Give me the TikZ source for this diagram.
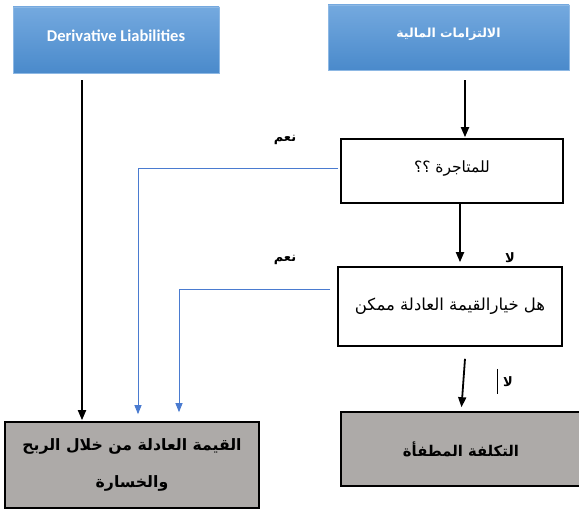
\documentclass[tikz,border=0pt]{standalone}
\usepackage{fontspec}
\setmainfont{Carlito}
\newfontfamily\arabicfont[Script=Arabic]{DejaVu Sans}
\TeXXeTstate=1
\usetikzlibrary{arrows.meta}
\definecolor{blueT}{HTML}{74A9DF}
\definecolor{blueB}{HTML}{4A8ACB}
\definecolor{blueEdge}{HTML}{8DB8E4}
\definecolor{grayfill}{HTML}{ADAAA8}
\definecolor{linkblue}{HTML}{4A7BD0}
\tikzset{
  bluebox/.style={draw=blueEdge, line width=0.8pt, top color=blueT, bottom color=blueB, text=white, font=\bfseries},
  whitebox/.style={draw=black, line width=1.6pt, fill=white},
  graybox/.style={draw=black, line width=1.6pt, fill=grayfill},
  mainarrow/.style={line width=1.8pt, -{Triangle[length=10pt,width=8pt]}},
  linkarrow/.style={draw=linkblue, line width=0.9pt, -{Triangle[length=9pt,width=7pt]}, color=linkblue},
  answer/.style={font=\arabicfont\bfseries\fontsize{13}{15}\selectfont}
}
\begin{document}
\begin{tikzpicture}[x=1pt,y=-1pt]
\useasboundingbox (0,0) rectangle (579,510);
\node[bluebox, minimum width=206pt, minimum height=66pt, font=\bfseries\fontsize{16.5}{18}\selectfont] (der) at (116,40) {\raisebox{9pt}{Derivative Liabilities}};
\node[bluebox, minimum width=241pt, minimum height=65pt, font=\arabicfont\bfseries\fontsize{12.5}{14}\selectfont] (fin) at (448.5,37.5) {\raisebox{9pt}{\beginR الالتزامات المالية\endR}};
\node[whitebox, minimum width=222pt, minimum height=64pt, font=\arabicfont\fontsize{15.5}{17}\selectfont] (q1) at (452,171) {\raisebox{8pt}{\beginR للمتاجرة ؟؟\endR}};
\node[whitebox, minimum width=224pt, minimum height=79pt, font=\arabicfont\fontsize{16.5}{18}\selectfont] (q2) at (450,306.5) {\raisebox{4pt}{\beginR هل خيارالقيمة العادلة ممكن\endR}};
\node[graybox, minimum width=254pt, minimum height=86pt, align=center, font=\arabicfont\bfseries\fontsize{15.7}{18}\selectfont] (fv) at (132,465) {\beginR القيمة العادلة من خلال الربح\endR\\[19pt]\beginR والخسارة\endR};
\node[graybox, minimum width=240pt, minimum height=74pt, font=\arabicfont\bfseries\fontsize{14.8}{17}\selectfont] (am) at (461,449) {\beginR التكلفة المطفأة\endR};
\node[answer] (yes1) at (285,140) {\beginR نعم\endR};
\node[answer] (yes2) at (285,260) {\beginR نعم\endR};
\node[answer] (no1) at (510,258) {\beginR لا\endR};
\node[answer] (no2) at (508,382) {\beginR لا\endR};
\coordinate (barT) at (497,369);
\coordinate (barB) at (497,394);
\draw[line width=0.6pt] (barT) -- (barB);
\draw[mainarrow] ([xshift=-34pt,yshift=-7pt]der.south) -- ([xshift=-50pt,yshift=1pt]fv.north);
\draw[mainarrow] ([xshift=16.5pt,yshift=-10pt]fin.south) -- ([xshift=13pt,yshift=1pt]q1.north);
\draw[mainarrow] ([xshift=8pt]q1.south) -- ([xshift=10pt,yshift=4pt]q2.north);
\draw[mainarrow] ([xshift=15pt,yshift=-12pt]q2.south) -- ([xshift=0.5pt,yshift=4pt]am.north);
\draw[linkarrow] ([yshift=3pt,xshift=-2pt]q1.west) -| ([xshift=6pt,yshift=7pt]fv.north);
\draw[linkarrow] ([yshift=17pt,xshift=-7pt]q2.west) -| ([xshift=47pt,yshift=9pt]fv.north);
\end{tikzpicture}
\end{document}
